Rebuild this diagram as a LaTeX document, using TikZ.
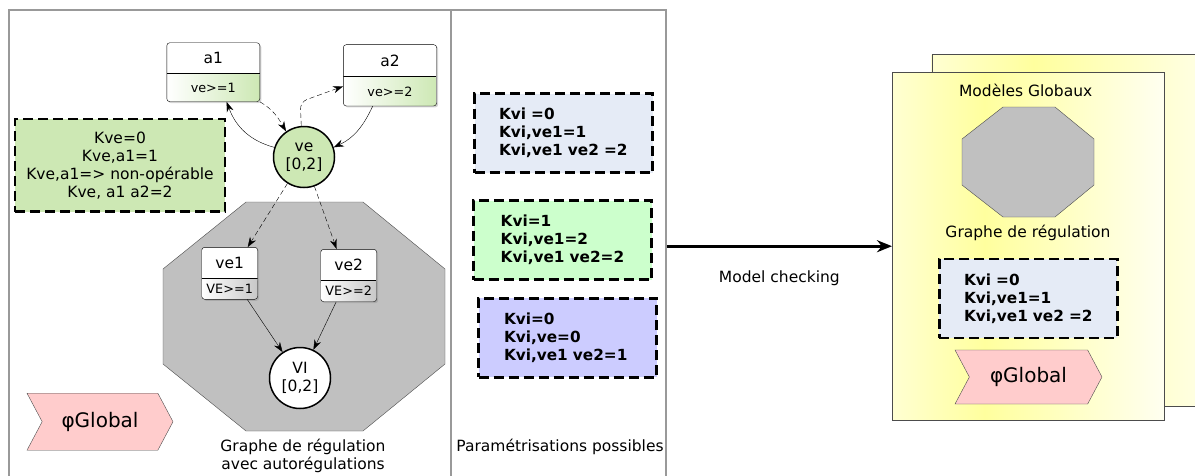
\documentclass[tikz,border=0pt]{standalone}
\usepackage{fontspec}
\setmainfont{DejaVu Sans}
\usetikzlibrary{positioning,shapes.symbols,shadows,arrows.meta}

\definecolor{kvegreen}{HTML}{CDE8B4}
\definecolor{paramblue}{HTML}{E5EBF6}
\definecolor{paramgreen}{HTML}{CCFFCC}
\definecolor{paramviolet}{HTML}{CCCCFF}
\definecolor{phipink}{HTML}{FFCCCC}
\definecolor{octgray}{HTML}{C0C0C0}
\definecolor{panelgray}{HTML}{999999}
\definecolor{yellowpale}{HTML}{FFFFD2}
\definecolor{yellowpeak}{HTML}{FFFF9E}
\definecolor{yellowend}{HTML}{FFFFF0}
\pgfdeclarehorizontalshading{globfade}{100bp}{color(0bp)=(yellowpale); color(25bp)=(yellowpale); color(42bp)=(yellowpeak); color(75bp)=(yellowend); color(100bp)=(yellowend)}

\begin{document}
\begin{tikzpicture}[x=1pt,y=1pt,on grid,
    >={Stealth[length=10pt,width=7pt]},
    every node/.style={font=\fontsize{15.5}{18}\selectfont},
    panel/.style={draw=panelgray,line width=1.5,minimum height=470},
    globpanel/.style={draw=black!70,shade,shading=globfade,minimum width=272,minimum height=348},
    cond/.style={font=\fontsize{12.8}{14}\selectfont},
    varbox/.style 2 args={draw,rounded corners=3,fill=white,
        drop shadow={shadow xshift=1.5pt,shadow yshift=-1.5pt,opacity=0.35},
        path picture={
          \shade[left color=white,right color=#1]
            (path picture bounding box.south west) rectangle
            ([yshift=#2]path picture bounding box.south east);
          \draw ([yshift=#2]path picture bounding box.south west) --
            ([yshift=#2]path picture bounding box.south east);}},
    gene/.style={circle,draw,line width=1.5,minimum size=61,inner sep=0,align=center},
    kbox/.style={draw,line width=2.5,dash pattern=on 10pt off 5pt,minimum width=178,minimum height=79},
    kparam/.style={kbox,font=\fontsize{15.3}{18}\selectfont\bfseries,align=left},
    formula/.style={signal,signal from=west,signal to=east,signal pointer angle=124,
        draw=black!70,fill=phipink,font=\fontsize{20}{24}\selectfont},
    regul/.style={->,dash pattern=on 5pt off 3pt},
  ]
  \useasboundingbox (0,0) rectangle (1195,-475);

  % frames
  \node[panel,minimum width=442] (graph) at (230,-245) {};
  \node[panel,minimum width=215] (params) at (558.5,-245) {};
  \node[globpanel,minimum width=300,minimum height=352] (globback) at (1081.7,-230.5) {};
  \node[globpanel] (glob) at (1028.2,-246.2) {};

  % regulation graph
  \draw[fill=octgray,draw=black!70] (246,-202) -- (363,-202) -- (445,-269) -- (445,-364)
    -- (363,-431) -- (246,-431) -- (163,-364) -- (163,-269) -- cycle;
  \node[gene,fill=kvegreen] (ve) at (304,-157) {ve\\{[0,2]}};
  \node[gene,fill=white] (vi) at (300,-378) {VI\\{[0,2]}};
  \node[varbox={kvegreen}{28.4},minimum width=93,minimum height=59,
    label={[anchor=center,yshift=-15pt]north:a1},
    label={[cond,anchor=center,yshift=14pt]south:ve>=1}]
    (a1) [above left=84.8pt and 90.7pt of ve] {};
  \node[varbox={kvegreen}{29.3},minimum width=93.4,minimum height=61.3,
    label={[anchor=center,yshift=-16pt]north:a2},
    label={[cond,anchor=center,yshift=14.5pt]south:ve>=2}]
    (a2) [above right=81.7pt and 86pt of ve] {};
  \node[varbox={black!22}{21.3},minimum width=56,minimum height=52,
    label={[anchor=center,yshift=-15.4pt]north:ve1},
    label={[cond,anchor=center,yshift=10.8pt]south:VE>=1}]
    (ve1) [above left=104.7pt and 70.3pt of vi] {};
  \node[varbox={black!22}{21.7},minimum width=56,minimum height=52.4,
    label={[anchor=center,yshift=-15.4pt]north:ve2},
    label={[cond,anchor=center,yshift=10.8pt]south:VE>=2}]
    (ve2) [above right=102.5pt and 48.7pt of vi] {};

  \draw[->] (ve.162) to[out=165,in=-70] ([xshift=13.4pt]a1.south);
  \draw[regul] (a1.south east) to[out=-30,in=120] (ve.125);
  \draw[regul,rounded corners=7pt] (ve.95) -- ++(-1,24) -- ([yshift=-11pt]a2.west);
  \draw[->] ([xshift=-17.3pt]a2.south) to[out=-115,in=25] (ve.18);
  \draw[regul] (ve) -- ([xshift=18pt]ve1.north);
  \draw[regul] (ve) -- ([xshift=-12pt]ve2.north);
  \draw[->] (ve1) -- (vi);
  \draw[->] (ve2) -- (vi);

  \node[kbox,fill=kvegreen,minimum width=210,minimum height=92.7,align=center] (kve) at (120,-165.3)
    {Kve=0\\Kve,a1=1\\Kve,a1=> non-opérable\\Kve, a1 a2=2};
  \node[formula,minimum width=146,minimum height=57] (phi) at (100,-421.7) {φGlobal};
  \node[align=center] (graphcap) at (303,-455.5) {Graphe de régulation\\avec autorégulations};

  % parametrisations
  \node[kparam,fill=paramblue,text width=129] (p1) at (563.5,-133) {Kvi =0\\Kvi,ve1=1\\Kvi,ve1 ve2 =2};
  \node[kparam,fill=paramgreen,text width=123.6] (p2) [below left=107pt and 1pt of p1] {Kvi=1\\Kvi,ve1=2\\Kvi,ve1 ve2=2};
  \node[kparam,fill=paramviolet,text width=127] (p3) [below right=97.8pt and 5pt of p2] {Kvi=0\\Kvi,ve=0\\Kvi,ve1 ve2=1};
  \node (paramcap) at (560,-447) {Paramétrisations possibles};

  \draw[line width=3,-{Stealth[length=15pt,width=12pt]}] (params.east |- glob.west) --
    node[midway,yshift=-32pt] (mclabel) {Model checking} (glob.west);

  % global models
  \node (globtitle) at (1025.7,-90) {Modèles Globaux};
  \draw[fill=octgray,draw=black!70] (1003,-107) -- (1055,-107) -- (1094,-139) -- (1094,-185)
    -- (1055,-217) -- (1003,-217) -- (962,-185) -- (962,-139) -- cycle;
  \node (globcap) at (1028,-233) {Graphe de régulation};
  \node[kparam,fill=paramblue,text width=128.6] (pglob) at (1028.3,-298.3) {Kvi =0\\Kvi,ve1=1\\Kvi,ve1 ve2 =2};
  \node[formula,minimum width=147,minimum height=54] (phiglob) at (1028.5,-377) {φGlobal};
\end{tikzpicture}
\end{document}
